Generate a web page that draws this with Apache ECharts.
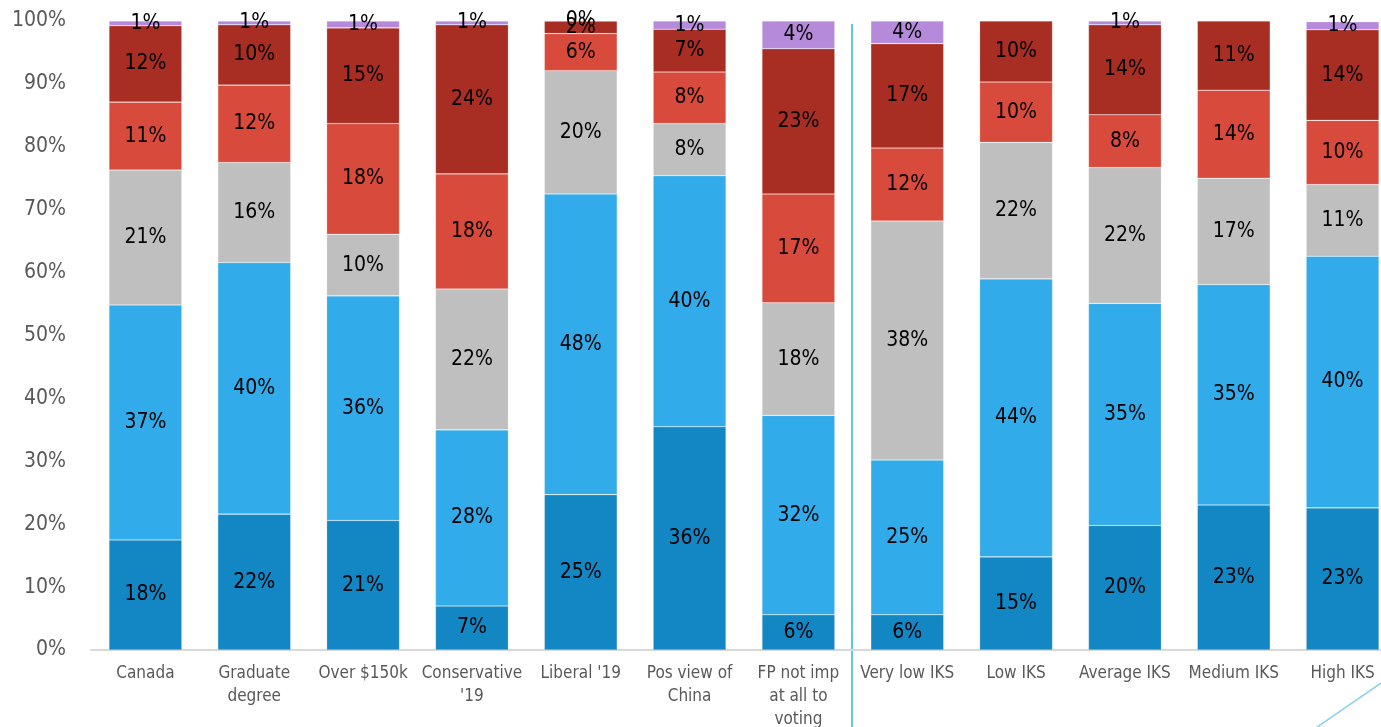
<!DOCTYPE html>
<html>
<head>
<meta charset="utf-8">
<script src="https://cdn.jsdelivr.net/npm/echarts@6/dist/echarts.min.js"></script>
<style>
html,body{margin:0;padding:0;background:#fff;overflow:hidden;}
#chart{width:1381px;height:727px;}
</style>
</head>
<body>
<div id="chart"></div>
<script>
var categories = ['Canada', 'Graduate\ndegree', 'Over $150k', "Conservative\n'19", "Liberal '19", 'Pos view of\nChina', 'FP not imp\nat all to\nvoting', 'Very low IKS', 'Low IKS', 'Average IKS', 'Medium IKS', 'High IKS'];
var yTickLabels = ['0%','10%','20%','30%','40%','50%','60%','70%','80%','90%','100%'];
var seriesNames = ['S1','S2','S3','S4','S5','S6'];
var s1 = [17.5, 21.6, 20.6, 7.0, 24.7, 35.5, 5.6, 5.6, 14.8, 19.8, 23.05, 22.6];
var s2 = [37.35, 40.0, 35.7, 28.0, 47.8, 39.9, 31.7, 24.6, 44.2, 35.3, 35.05, 40.0];
var s3 = [21.45, 15.9, 9.8, 22.4, 19.6, 8.3, 17.9, 38.0, 21.7, 21.6, 16.9, 11.4];
var s4 = [10.8, 12.3, 17.6, 18.3, 5.9, 8.2, 17.3, 11.6, 9.6, 8.4, 14.0, 10.2];
var s5 = [12.15, 9.6, 15.2, 23.7, 2.0, 6.8, 23.1, 16.6, 9.7, 14.3, 11.0, 14.4];
var s6 = [0.75, 0.6, 1.1, 0.6, 0, 1.3, 4.4, 3.6, null, 0.6, null, 1.3];
var colors = ['#1386C4', '#31ABE9', '#BFBFBF', '#D84B3C', '#A82D23', '#B68ADB'];

var allData = [s1, s2, s3, s4, s5, s6];
var font = '"DejaVu Sans Condensed", "DejaVu Sans", sans-serif';

var series = allData.map(function (d, i) {
  return {
    name: seriesNames[i],
    type: 'bar',
    stack: 'total',
    data: d,
    barCategoryGap: '33%',
    clip: false,
    itemStyle: { color: colors[i], borderColor: 'rgba(255,255,255,0.35)', borderWidth: 0.6 },
    label: {
      show: true,
      position: 'inside',
      color: '#000',
      fontFamily: font,
      fontSize: 21,
      formatter: function (p) { return p.value == null ? '' : Math.round(p.value) + '%'; }
    }
  };
});

var chart = echarts.init(document.getElementById('chart'), null, { renderer: 'canvas' });
chart.setOption({
  animation: false,
  backgroundColor: '#ffffff',
  grid: { left: 91, right: -16, top: 21, bottom: 77, containLabel: false, outerBoundsMode: 'none' },
  xAxis: {
    type: 'category',
    data: categories,
    axisLine: { show: true, lineStyle: { color: '#D9D9D9', width: 2 } },
    axisTick: { show: false },
    axisLabel: { interval: 0, color: '#595959', fontFamily: font, fontSize: 17, lineHeight: 23, margin: 12 }
  },
  yAxis: {
    type: 'value',
    min: 0, max: 100, interval: 10,
    axisLine: { show: false },
    axisTick: { show: false },
    splitLine: { show: false },
    axisLabel: {
      color: '#595959', fontFamily: font, fontSize: 21, margin: 25,
      formatter: function (v) { return yTickLabels[Math.round(v / 10)]; }
    }
  },
  series: series,
  graphic: [
    { type: 'line', shape: { x1: 852, y1: 24, x2: 852, y2: 727 }, style: { stroke: '#5BC6F0', lineWidth: 2 }, silent: true },
    { type: 'line', shape: { x1: 1317, y1: 727, x2: 1381, y2: 683 }, style: { stroke: '#7FD0F0', lineWidth: 1.5 }, silent: true }
  ]
});
</script>
</body>
</html>
